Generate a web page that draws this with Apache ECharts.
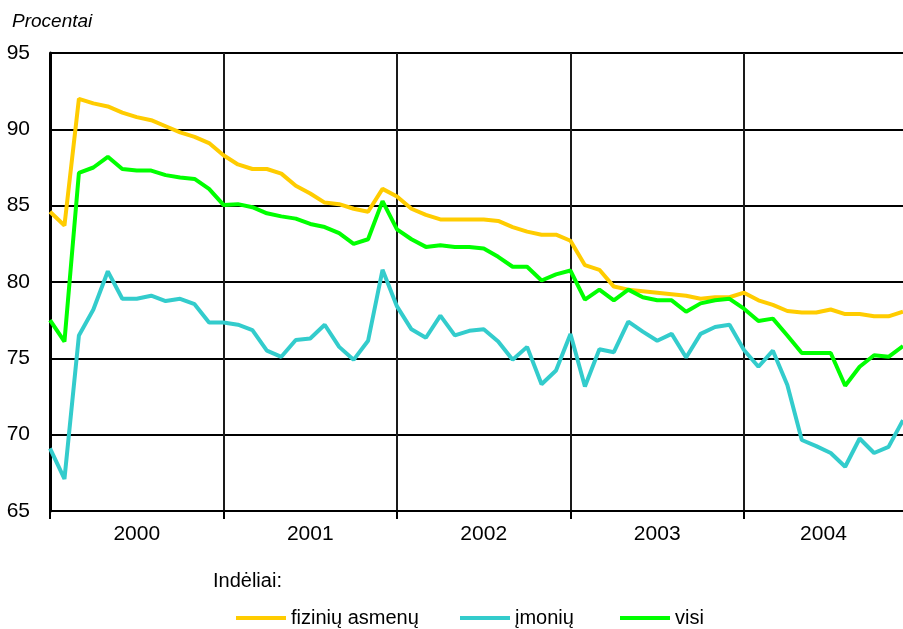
<!DOCTYPE html>
<html>
<head>
<meta charset="utf-8">
<script src="https://cdn.jsdelivr.net/npm/echarts@6/dist/echarts.min.js"></script>
<style>
  html, body { margin: 0; padding: 0; background: #fff; }
  #chart { width: 903px; height: 629px; }
</style>
</head>
<body>
<div id="chart"></div>
<script>
// Monthly deposit shares, 2000-01 .. 2004-12 (percent)
const years = ['2000', '2001', '2002', '2003', '2004'];
const months = [];
years.forEach(y => { for (let m = 1; m <= 12; m++) months.push(y + '-' + String(m).padStart(2, '0')); });

const fiziniuAsmenu = [
  84.6, 83.7, 92.0, 91.7, 91.5, 91.1, 90.8, 90.6, 90.2, 89.8, 89.5, 89.1,
  88.3, 87.7, 87.4, 87.4, 87.1, 86.3, 85.8, 85.2, 85.1, 84.8, 84.6, 86.1,
  85.6, 84.8, 84.4, 84.1, 84.1, 84.1, 84.1, 84.0, 83.6, 83.3, 83.1, 83.1,
  82.7, 81.1, 80.8, 79.7, 79.5, 79.4, 79.3, 79.2, 79.1, 78.9, 79.0, 79.0,
  79.3, 78.8, 78.5, 78.1, 78.0, 78.0, 78.2, 77.9, 77.9, 77.75, 77.75, 78.05
];
const imoniu = [
  69.1, 67.1, 76.5, 78.2, 80.7, 78.9, 78.9, 79.1, 78.75, 78.9, 78.55, 77.35,
  77.35, 77.2, 76.85, 75.5, 75.1, 76.2, 76.3, 77.2, 75.75, 74.9, 76.15, 80.8,
  78.4, 76.9, 76.35, 77.8, 76.5, 76.8, 76.9, 76.1, 74.9, 75.75, 73.3, 74.2,
  76.6, 73.15, 75.6, 75.4, 77.4, 76.75, 76.15, 76.6, 75.05, 76.6, 77.05, 77.2,
  75.55, 74.45, 75.5, 73.25, 69.65, 69.25, 68.8, 67.9, 69.75, 68.8, 69.2, 70.95
];
const visi = [
  77.5, 76.1, 87.15, 87.5, 88.2, 87.4, 87.3, 87.3, 87.0, 86.85, 86.75, 86.1,
  85.05, 85.1, 84.9, 84.5, 84.3, 84.15, 83.8, 83.6, 83.2, 82.5, 82.8, 85.3,
  83.45, 82.8, 82.3, 82.4, 82.3, 82.3, 82.2, 81.65, 81.0, 81.0, 80.1, 80.5,
  80.75, 78.85, 79.5, 78.8, 79.5, 79.0, 78.8, 78.8, 78.05, 78.6, 78.8, 78.9,
  78.25, 77.45, 77.6, 76.5, 75.35, 75.35, 75.35, 73.2, 74.45, 75.2, 75.1, 75.8
];
const seriesNames = ['fizinių asmenų', 'įmonių', 'visi'];
const seriesColors = ['#FFCC00', '#33CCCC', '#00FF00'];
const yTicks = [65, 70, 75, 80, 85, 90, 95];

const FONT = '"Liberation Sans", Arial, sans-serif';
const lastIdx = months.length - 1;
// year labels sit in the middle of each year's span on a parallel value axis
const yearCenters = years.map((y, k) => (k * 12 + Math.min(k * 12 + 12, lastIdx)) / 2);
// one legend block per series so each key sits at its own spot
const legendLefts = [236, 460, 620];

const chart = echarts.init(document.getElementById('chart'), null, { renderer: 'canvas' });
chart.setOption({
  animation: false,
  backgroundColor: '#ffffff',
  title: [
    { text: 'Procentai', left: 12, top: 12, padding: 0,
      textStyle: { fontFamily: FONT, fontStyle: 'italic', fontWeight: 'normal', fontSize: 19, color: '#000' } },
    { text: 'Indėliai:', left: 213, top: 571, padding: 0,
      textStyle: { fontFamily: FONT, fontWeight: 'normal', fontSize: 20, color: '#000' } }
  ],
  legend: seriesNames.map((name, i) => ({
    data: [name],
    left: legendLefts[i], top: 608, padding: 0,
    icon: 'rect', itemWidth: 50, itemHeight: 4,
    textStyle: { fontFamily: FONT, fontSize: 20, color: '#000' }
  })),
  grid: { left: 50, right: 0, top: 53, bottom: 118 },
  xAxis: [
    {
      type: 'category', data: months, boundaryGap: false,
      axisLine: { lineStyle: { color: '#000', width: 2 } },
      axisTick: { show: true, length: 8, lineStyle: { color: '#000', width: 2 },
                  interval: (i) => i % 12 === 0 },
      axisLabel: { show: false },
      splitLine: { show: true, interval: (i) => i % 12 === 0,
                   lineStyle: { color: '#1a1a1a', width: 2 } }
    },
    {
      type: 'value', min: 0, max: lastIdx, position: 'bottom',
      axisLine: { show: false }, axisTick: { show: false }, splitLine: { show: false },
      axisLabel: {
        customValues: yearCenters,
        formatter: (v) => years[yearCenters.indexOf(v)] || '',
        margin: 13, fontFamily: FONT, fontSize: 21, color: '#000'
      }
    }
  ],
  yAxis: {
    type: 'value', min: yTicks[0], max: yTicks[yTicks.length - 1], interval: 5,
    axisLine: { show: true, lineStyle: { color: '#000', width: 3 } },
    axisTick: { show: false },
    axisLabel: { margin: 20, fontFamily: FONT, fontSize: 21, color: '#000' },
    splitLine: { lineStyle: { color: '#000', width: 2 } }
  },
  series: [fiziniuAsmenu, imoniu, visi].map((vals, i) => ({
    name: seriesNames[i], type: 'line', data: vals, showSymbol: false,
    color: seriesColors[i], lineStyle: { width: 4 }
  }))
});
</script>
</body>
</html>
